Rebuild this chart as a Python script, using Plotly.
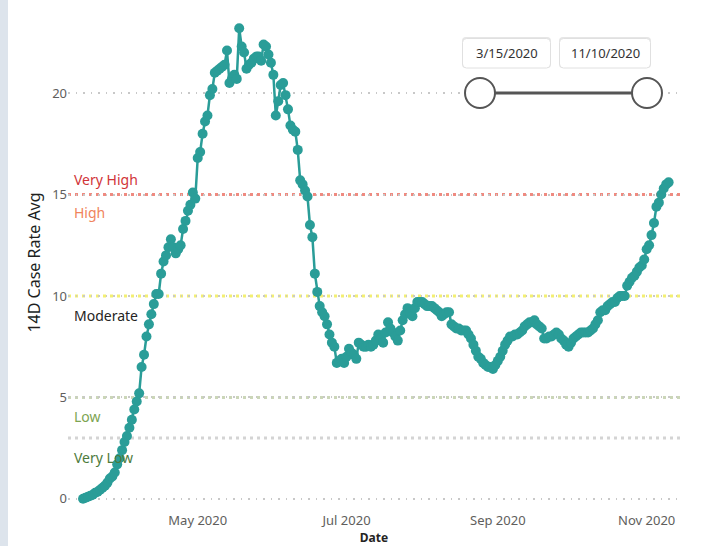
import plotly.graph_objects as go
import pandas as pd

# ---- data ----
start_date = "2020-03-15"
case_rate = [
    0.0, 0.05, 0.1, 0.15, 0.2, 0.3, 0.35, 0.45, 0.55, 0.65,
    0.8, 1.0, 1.1, 1.3, 1.7, 2.0, 2.4, 2.8, 3.1, 3.5,
    3.9, 4.4, 4.8, 5.2, 6.5, 7.1, 8.0, 8.6, 9.1, 9.6,
    10.1, 10.1, 11.1, 11.7, 12.0, 12.4, 12.8, 12.4, 12.1, 12.3,
    12.5, 13.3, 13.7, 14.2, 14.5, 15.1, 14.8, 16.8, 17.1, 18.0,
    18.6, 18.9, 19.9, 20.2, 21.0, 21.1, 21.2, 21.3, 21.4, 22.1,
    20.5, 20.7, 20.9, 20.7, 23.2, 22.3, 22.0, 21.2, 21.4, 21.5,
    21.7, 21.8, 21.8, 21.6, 22.4, 22.3, 21.9, 21.5, 20.9, 18.9,
    19.6, 20.4, 20.5, 19.9, 19.2, 18.4, 18.2, 18.1, 17.2, 15.7,
    15.5, 15.2, 14.9, 13.5, 12.9, 11.1, 10.2, 9.5, 9.2, 9.0,
    8.6, 8.1, 7.7, 7.5, 6.7, 6.8, 6.9, 6.7, 7.0, 7.4,
    7.2, 7.1, 6.9, 7.7, 7.6, 7.5, 7.5, 7.6, 7.5, 7.6,
    7.8, 8.1, 7.9, 7.7, 8.2, 8.7, 8.4, 8.2, 8.0, 7.8,
    8.3, 8.8, 9.1, 9.4, 9.2, 9.0, 9.4, 9.7, 9.7, 9.7,
    9.6, 9.5, 9.5, 9.5, 9.4, 9.3, 9.2, 9.0, 9.1, 9.2,
    9.2, 8.6, 8.5, 8.4, 8.4, 8.3, 8.3, 8.3, 8.1, 7.9,
    7.6, 7.3, 7.0, 6.9, 6.7, 6.6, 6.5, 6.5, 6.4, 6.6,
    6.8, 7.0, 7.3, 7.6, 7.8, 8.0, 8.0, 8.1, 8.1, 8.2,
    8.3, 8.5, 8.6, 8.7, 8.7, 8.8, 8.6, 8.5, 8.4, 7.9,
    7.9, 8.0, 8.0, 8.1, 8.2, 8.1, 7.9, 7.8, 7.6, 7.5,
    7.7, 7.9, 8.0, 8.1, 8.2, 8.2, 8.2, 8.2, 8.3, 8.4,
    8.6, 8.8, 9.2, 9.3, 9.3, 9.5, 9.6, 9.7, 9.7, 9.9,
    10.0, 10.0, 10.0, 10.5, 10.7, 10.9, 11.0, 11.2, 11.4, 11.5,
    11.8, 12.3, 12.5, 13.0, 13.6, 14.4, 14.6, 15.0, 15.3, 15.5,
    15.6,
]
dates = pd.date_range(start_date, periods=len(case_rate), freq="D")

threshold_values = [15, 10, 5, 3]
threshold_colors = ["#ef8a80", "#f3ef72", "#cbd6b8", "#d4d4d4"]
band_labels = ["Very High", "High", "Moderate", "Low", "Very Low"]
band_label_y = [15.75, 14.1, 9.05, 4.05, 2.05]
band_label_colors = ["#d13438", "#f0845c", "#252423", "#7da452", "#4d7b3c"]
slider_labels = ["3/15/2020", "11/10/2020"]

W, H = 704, 546
L, R, T, B = 68, 24, 14, 35
PW, PH = W - L - R, H - T - B


def px(x):
    return (x - L) / PW


def py(y):
    return (H - B - y) / PH


def rounded_rect(x0, y0, x1, y1, r):
    pts = [
        f"M {px(x0 + r)},{py(y0)}",
        f"L {px(x1 - r)},{py(y0)}",
        f"Q {px(x1)},{py(y0)} {px(x1)},{py(y0 + r)}",
        f"L {px(x1)},{py(y1 - r)}",
        f"Q {px(x1)},{py(y1)} {px(x1 - r)},{py(y1)}",
        f"L {px(x0 + r)},{py(y1)}",
        f"Q {px(x0)},{py(y1)} {px(x0)},{py(y1 - r)}",
        f"L {px(x0)},{py(y0 + r)}",
        f"Q {px(x0)},{py(y0)} {px(x0 + r)},{py(y0)} Z",
    ]
    return " ".join(pts)


FONT = "Segoe UI, Noto Sans, sans-serif"

fig = go.Figure()
fig.add_trace(go.Scatter(
    x=dates, y=case_rate, mode="lines+markers",
    line=dict(color="#2a9d98", width=2.5),
    marker=dict(color="#2a9d98", size=10),
    showlegend=False, hoverinfo="skip",
))

shapes = []
for v, c in zip(threshold_values, threshold_colors):
    shapes.append(dict(type="line", xref="paper", yref="y", x0=0, x1=1, y0=v, y1=v,
                       line=dict(color=c, width=3, dash="3px,4px"), layer="between"))

# left gray strip
shapes.append(dict(type="rect", xref="paper", yref="paper", x0=px(0), x1=px(8),
                   y0=py(H), y1=py(0), fillcolor="#dde4ec", line=dict(width=0), layer="above"))
# slider background
shapes.append(dict(type="rect", xref="paper", yref="paper", x0=px(444), x1=px(672),
                   y0=py(116), y1=py(30), fillcolor="white", line=dict(width=0), layer="between"))
# slider date boxes (soft shadow + box)
for x0, x1 in [(462, 551), (559, 651)]:
    shapes.append(dict(type="path", xref="paper", yref="paper",
                       path=rounded_rect(x0, 37, x1, 68, 4), fillcolor="#e6e6e6",
                       line=dict(width=0), layer="above"))
    shapes.append(dict(type="path", xref="paper", yref="paper",
                       path=rounded_rect(x0 + 0.5, 38.5, x1 - 0.5, 68, 4), fillcolor="white",
                       line=dict(color="#e0e0e0", width=1), layer="above"))
# slider track
shapes.append(dict(type="line", xref="paper", yref="paper", x0=px(494), x1=px(633),
                   y0=py(93), y1=py(93), line=dict(color="#555555", width=3), layer="above"))
for cx in [480, 647]:
    shapes.append(dict(type="circle", xref="paper", yref="paper", x0=px(cx - 15), x1=px(cx + 15),
                       y0=py(108), y1=py(78), fillcolor="white",
                       line=dict(color="#555555", width=2), layer="above"))

annotations = []
for lab, yv, c in zip(band_labels, band_label_y, band_label_colors):
    annotations.append(dict(text=lab, xref="paper", yref="y", x=px(72), y=yv,
                            xanchor="left", yanchor="middle", showarrow=False,
                            font=dict(family=FONT, size=14, color=c)))
for lab, cx in zip(slider_labels, [506.5, 605]):
    annotations.append(dict(text=lab, xref="paper", yref="paper", x=px(cx), y=py(53),
                            xanchor="center", yanchor="middle", showarrow=False,
                            font=dict(family=FONT, size=13, color="#333333")))

fig.update_layout(
    width=W, height=H,
    margin=dict(l=L, r=R, t=T, b=B, autoexpand=False),
    paper_bgcolor="white", plot_bgcolor="white",
    font=dict(family=FONT, size=13, color="#666666"),
    shapes=shapes, annotations=annotations,
    xaxis=dict(
        range=["2020-03-08 20:00", "2020-11-14 16:00"],
        tick0="2020-05-01", dtick="M2", tickformat="%b %Y",
        showgrid=False, zeroline=False, showline=False, ticks="",
        tickfont=dict(size=13, color="#605e5c"),
        title=dict(text="<b>Date</b>", font=dict(size=12, color="#252423"), standoff=4),
        automargin=False,
    ),
    yaxis=dict(
        range=[-0.6, 23.9], tickvals=[0, 5, 10, 15, 20],
        showgrid=True, gridcolor="#c8c8c8", gridwidth=1.5, griddash="1.5px,6px",
        zeroline=False, showline=False, ticks="",
        tickfont=dict(size=13, color="#605e5c"),
        title=dict(text="14D Case Rate Avg", font=dict(size=16, color="#201f1e"), standoff=7),
        automargin=False,
    ),
)

fig.write_html("out.html", config={"displayModeBar": False},
               post_script="document.body.style.margin='0px';")
